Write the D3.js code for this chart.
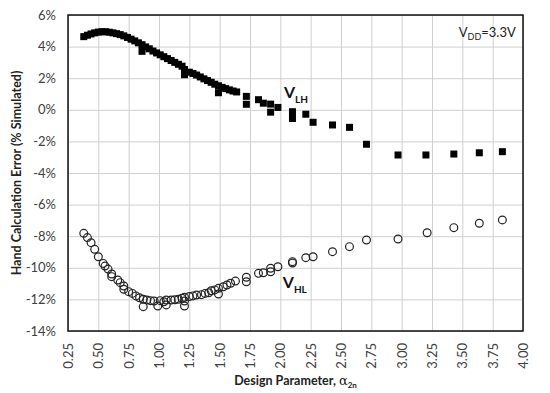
<!DOCTYPE html>
<html>
<head>
<meta charset="UTF-8">
<script src="https://d3js.org/d3.v7.min.js"></script>
<style>
  body { margin: 0; background: #fff; }
  text { font-family: Lato, "Liberation Sans", sans-serif; }
</style>
</head>
<body>
<script>
// ---- data ----
// V_LH (filled squares)
var lhAlpha = [0.38, 0.41, 0.44, 0.47, 0.50, 0.53, 0.56, 0.59, 0.62, 0.65, 0.68, 0.71, 0.74, 0.77, 0.80, 0.83,
  0.86, 0.86, 0.89, 0.92, 0.95, 0.98, 1.01, 1.04, 1.07, 1.10, 1.13, 1.16, 1.19, 1.21, 1.21, 1.25, 1.28, 1.31,
  1.34, 1.37, 1.40, 1.43, 1.46, 1.49, 1.49, 1.52, 1.55, 1.58, 1.61, 1.64, 1.72, 1.72, 1.82, 1.86, 1.92, 1.92,
  1.98, 2.10, 2.10, 2.21, 2.27, 2.43, 2.57, 2.71, 2.97, 3.20, 3.43, 3.64, 3.83];
var lhError = [4.63, 4.72, 4.80, 4.87, 4.92, 4.94, 4.94, 4.91, 4.87, 4.82, 4.76, 4.68, 4.58, 4.47, 4.36, 4.24,
  4.12, 3.70, 3.98, 3.86, 3.72, 3.60, 3.48, 3.36, 3.24, 3.12, 3.00, 2.88, 2.76, 2.55, 2.22, 2.38, 2.30, 2.20,
  2.08, 1.96, 1.85, 1.74, 1.62, 1.52, 1.08, 1.42, 1.34, 1.26, 1.19, 1.13, 0.85, 0.35, 0.64, 0.42, 0.36, -0.15,
  0.15, -0.12, -0.55, -0.28, -0.79, -0.96, -1.11, -2.18, -2.86, -2.86, -2.80, -2.72, -2.65];

// V_HL (open circles)
var hlAlpha = [0.38, 0.41, 0.44, 0.47, 0.50, 0.54, 0.555, 0.58, 0.61, 0.61, 0.66, 0.68, 0.71, 0.71, 0.75, 0.78,
  0.81, 0.84, 0.87, 0.87, 0.90, 0.93, 0.96, 0.99, 1.01, 1.04, 1.06, 1.06, 1.10, 1.13, 1.16, 1.19, 1.21, 1.21,
  1.21, 1.25, 1.28, 1.31, 1.35, 1.38, 1.41, 1.43, 1.46, 1.49, 1.49, 1.53, 1.56, 1.59, 1.63, 1.72, 1.72, 1.82,
  1.86, 1.92, 1.92, 1.98, 2.10, 2.10, 2.21, 2.27, 2.43, 2.57, 2.71, 2.97, 3.21, 3.43, 3.64, 3.83];
var hlError = [-7.82, -8.09, -8.41, -8.83, -9.30, -9.72, -9.89, -10.08, -10.39, -10.56, -10.77, -10.94, -11.15,
  -11.36, -11.51, -11.62, -11.78, -11.90, -11.99, -12.46, -12.04, -12.08, -12.10, -12.42, -12.08, -12.15, -12.04,
  -12.35, -12.04, -12.02, -11.99, -11.93, -11.87, -12.10, -12.42, -11.82, -11.78, -11.72, -11.70, -11.62, -11.58,
  -11.45, -11.40, -11.30, -11.66, -11.20, -11.09, -10.98, -10.84, -10.60, -10.88, -10.35, -10.31, -10.03, -10.25,
  -9.93, -9.61, -9.70, -9.36, -9.30, -8.98, -8.66, -8.24, -8.18, -7.78, -7.46, -7.18, -6.97];

var xTicks = [0.25, 0.50, 0.75, 1.00, 1.25, 1.50, 1.75, 2.00, 2.25, 2.50, 2.75, 3.00, 3.25, 3.50, 3.75, 4.00];
var yTicks = [6, 4, 2, 0, -2, -4, -6, -8, -10, -12, -14];

// ---- layout ----
var margin = {top: 15, right: 27, bottom: 62, left: 68},
    width = 550 - margin.left - margin.right,
    height = 393 - margin.top - margin.bottom;

var x = d3.scaleLinear().domain([0.25, 4.0]).range([0, width]);
var y = d3.scaleLinear().domain([-14, 6]).range([height, 0]);

var svg = d3.select("body").append("svg")
    .attr("width", 550)
    .attr("height", 393);

var g = svg.append("g")
    .attr("transform", "translate(" + margin.left + "," + margin.top + ")");

// gridlines
g.append("g")
  .call(d3.axisBottom(x).tickValues(xTicks).tickSize(height).tickFormat(""))
  .call(function(a) { a.select(".domain").remove(); })
  .selectAll("line").attr("stroke", "#d0d0d0");

g.append("g")
  .call(d3.axisLeft(y).tickValues(yTicks).tickSize(-width).tickFormat(""))
  .call(function(a) { a.select(".domain").remove(); })
  .selectAll("line").attr("stroke", "#d0d0d0");

// y tick labels
var yAxis = g.append("g")
  .call(d3.axisLeft(y).tickValues(yTicks).tickSize(0).tickPadding(12)
    .tickFormat(function(d) { return d + "%"; }));
yAxis.select(".domain").remove();
yAxis.selectAll("text")
  .attr("font-family", "Lato, sans-serif")
  .attr("font-size", 13)
  .attr("fill", "#404040");

// x tick labels, rotated
var xAxis = g.append("g")
  .attr("transform", "translate(0," + height + ")")
  .call(d3.axisBottom(x).tickValues(xTicks).tickSize(0)
    .tickFormat(d3.format(".2f")));
xAxis.select(".domain").remove();
xAxis.selectAll("text")
  .attr("font-family", "Lato, sans-serif")
  .attr("font-size", 13)
  .attr("fill", "#404040")
  .attr("text-anchor", "end")
  .attr("dy", "0.35em")
  .attr("transform", "translate(0,12) rotate(-90)")
  .attr("x", 0)
  .attr("y", 0);

// plot border
g.append("rect")
  .attr("width", width)
  .attr("height", height)
  .attr("fill", "none")
  .attr("stroke", "#111")
  .attr("stroke-width", 1.5);

// V_LH squares
var lh = lhAlpha.map(function(a, i) { return {a: a, v: lhError[i]}; });
g.selectAll(".sq").data(lh).enter().append("rect")
  .attr("class", "sq")
  .attr("x", function(d) { return x(d.a) - 3.5; })
  .attr("y", function(d) { return y(d.v) - 3.5; })
  .attr("width", 7)
  .attr("height", 7)
  .attr("fill", "#000");

// V_HL circles
var hl = hlAlpha.map(function(a, i) { return {a: a, v: hlError[i]}; });
g.selectAll(".ci").data(hl).enter().append("circle")
  .attr("class", "ci")
  .attr("cx", function(d) { return x(d.a); })
  .attr("cy", function(d) { return y(d.v); })
  .attr("r", 3.9)
  .attr("fill", "none")
  .attr("stroke", "#222")
  .attr("stroke-width", 1.2);

// series labels
function subLabel(px, py, main, sub) {
  var t = g.append("text")
    .attr("x", x(px))
    .attr("y", y(py))
    .attr("font-family", "Liberation Sans, Arial, sans-serif")
    .attr("font-weight", "bold")
    .attr("font-size", 16)
    .attr("fill", "#111");
  t.append("tspan").text(main);
  t.append("tspan").attr("font-size", 10).attr("dy", 5).text(sub);
}
subLabel(2.03, 0.75, "V", "LH");
subLabel(2.02, -11.28, "V", "HL");

// supply label
var vdd = g.append("text")
  .attr("x", x(3.99) - 6)
  .attr("y", y(4.6))
  .attr("text-anchor", "end")
  .attr("font-family", "Lato, sans-serif")
  .attr("font-size", 13)
  .attr("fill", "#222");
vdd.append("tspan").text("V");
vdd.append("tspan").attr("font-size", 9).attr("dy", 3).text("DD");
vdd.append("tspan").attr("dy", -3).text("=3.3V");

// axis titles
svg.append("text")
  .attr("transform", "translate(21," + (margin.top + height / 2) + ") rotate(-90)")
  .attr("text-anchor", "middle")
  .attr("font-family", "Lato, sans-serif")
  .attr("font-weight", "bold")
  .attr("font-size", 12.5)
  .attr("fill", "#222")
  .text("Hand Calculation Error (% Simulated)");

var xt = svg.append("text")
  .attr("x", margin.left + width / 2)
  .attr("y", 385)
  .attr("text-anchor", "middle")
  .attr("font-family", "Lato, sans-serif")
  .attr("font-weight", "bold")
  .attr("font-size", 12.5)
  .attr("fill", "#222");
xt.append("tspan").text("Design Parameter, ");
xt.append("tspan").attr("font-family", "DejaVu Serif, serif").attr("font-weight", "normal").attr("font-size", 13).text("α");
xt.append("tspan").attr("font-size", 8).attr("dy", 3).text("2n");
</script>
</body>
</html>
